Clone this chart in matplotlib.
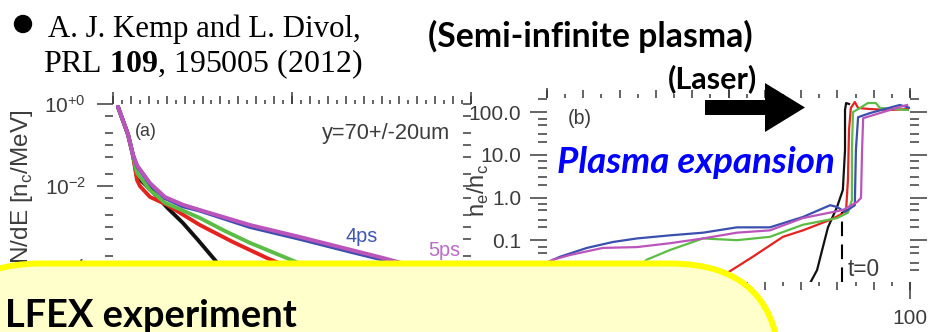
import math
import matplotlib
matplotlib.use("Agg")
import matplotlib.pyplot as plt
from matplotlib.patches import FancyBboxPatch, FancyArrow, Circle
from matplotlib.ticker import (FixedLocator, MultipleLocator, FuncFormatter,
                               NullFormatter, LogLocator)

plt.rcParams['font.family'] = 'Liberation Sans'
plt.rcParams['mathtext.fontset'] = 'custom'
plt.rcParams['mathtext.rm'] = 'Liberation Serif'
plt.rcParams['mathtext.bf'] = 'Liberation Serif:bold'
plt.rcParams['mathtext.sf'] = 'Liberation Sans'

# ---------------- panel (a): electron spectra dN/dE vs energy ----------------
a_black_E = [0.56, 1.0, 1.68, 2.23, 2.68, 4.47, 6.1, 7.8, 9.5, 11.2, 14.2]
a_black_f = [0.85, 0.46, 0.18, 0.057, 0.017, 0.0071, 0.0029, 0.00126, 4.8e-4, 1.75e-4, 2.9e-5]
a_red_E = [0.56, 1.0, 1.68, 2.23, 2.68, 3.0, 4.13, 6.0, 9.7, 13.4, 17.2, 20.9]
a_red_f = [0.85, 0.46, 0.18, 0.055, 0.014, 0.010, 0.0054, 0.0035, 0.00112, 4.3e-4, 1.75e-4, 8.0e-5]
a_green_E = [0.56, 1.0, 1.68, 2.23, 2.68, 4.13, 5.8, 9.7, 12.5, 15.3, 19.4, 23.1]
a_green_f = [0.85, 0.46, 0.18, 0.056, 0.021, 0.0080, 0.0039, 0.00166, 8.0e-4, 4.1e-4, 1.75e-4, 8.0e-5]
a_blue_E = [0.56, 1.0, 1.68, 2.23, 2.68, 4.13, 5.8, 7.8, 9.7, 15.3, 20.9, 26.5, 30.2, 34.3, 40]
a_blue_f = [0.85, 0.46, 0.18, 0.058, 0.031, 0.0112, 0.0051, 0.0032, 0.0025, 0.0010, 5.1e-4,
            2.5e-4, 1.58e-4, 8.9e-5, 4.6e-5]
a_purple_E = [0.56, 1.0, 1.68, 2.23, 2.68, 4.13, 5.8, 7.8, 9.7, 15.3, 20.9, 26.5, 30.2, 34.3, 40]
a_purple_f = [0.85, 0.46, 0.18, 0.058, 0.032, 0.0118, 0.0054, 0.0035, 0.0026, 0.00112, 5.7e-4,
              2.8e-4, 1.75e-4, 1.0e-4, 5.1e-5]
a_yticks = [1.0, 1e-2, 1e-4, 1e-6]

# ---------------- panel (b): density profiles ne/nc vs position ----------------
b_black_x = [71.5, 72.5, 74.4, 75.8, 77.4, 79.9, 81.5, 82.1, 82.1, 82.4, 83.2]
b_black_n = [0.008, 0.010, 0.020, 0.059, 0.20, 0.60, 1.5, 13, 112, 163, 155]
b_red_x = [44.0, 49.6, 56.7, 65.0, 70.5, 78.0, 80.7, 82.4, 82.9, 83.2, 83.7, 84.8, 85.7,
           89.0, 94.5, 99.4]
b_red_n = [0.008, 0.017, 0.041, 0.12, 0.17, 0.30, 0.39, 0.51, 2.6, 38, 125, 172, 125,
           118, 112, 118]
b_green_x = [18.0, 27.5, 33.9, 43.0, 52.3, 61.4, 70.5, 79.9, 82.9, 84.0, 84.0, 84.3, 86.2,
             88.4, 90.6, 91.7, 99.4]
b_green_n = [0.008, 0.035, 0.059, 0.11, 0.10, 0.12, 0.23, 0.33, 0.44, 0.87, 13, 100, 125,
             163, 163, 125, 112]
b_blue_x = [0.0, 3.6, 11.0, 18.2, 24.8, 33.9, 43.0, 52.3, 61.4, 70.5, 78.0, 79.9, 82.1,
            84.8, 85.1, 85.7, 89.0, 97.2, 100]
b_blue_n = [0.030, 0.041, 0.066, 0.091, 0.11, 0.13, 0.15, 0.20, 0.20, 0.35, 0.66, 0.60, 0.46,
            0.66, 13, 76, 95, 147, 125]
b_purple_x = [0.0, 1.7, 6.3, 15.4, 24.8, 33.9, 43.0, 52.3, 61.4, 70.5, 81.5, 85.4, 86.5,
              86.8, 87.1, 91.7, 97.2, 99.2]
b_purple_n = [0.030, 0.035, 0.045, 0.066, 0.069, 0.085, 0.11, 0.15, 0.17, 0.33, 0.51, 0.78,
              0.98, 13, 72, 95, 132, 147]
b_t0_x = 81.3
b_t0_range = (0.0105, 0.45)
b_yticks = [0.1, 1.0, 10.0, 100.0]

C_BLACK, C_RED, C_GREEN = '#111111', '#e42320', '#5bbd45'
C_BLUE, C_PURPLE = '#3a4fae', '#bb55bb'
TXT = '#3c3c3c'
TICK = '#3a3a3a'

W, H = 951, 332
fig = plt.figure(figsize=(W / 100, H / 100), dpi=100)
fig.patch.set_facecolor('white')


def hide_spines(ax):
    for s in ax.spines.values():
        s.set_visible(False)


# ---------- panel (a) ----------
axA = fig.add_axes([113 / W, 8 / H, 358 / W, 220 / H])
hide_spines(axA)
axA.set_yscale('log')
axA.set_xlim(0, 40)
axA.set_ylim(4.3e-6, 1.0)
for E, f, c in [(a_black_E, a_black_f, C_BLACK), (a_red_E, a_red_f, C_RED),
                (a_green_E, a_green_f, C_GREEN), (a_blue_E, a_blue_f, C_BLUE),
                (a_purple_E, a_purple_f, C_PURPLE)]:
    axA.plot(E, f, color=c, lw=2.8, solid_capstyle='round', solid_joinstyle='round')

axA.xaxis.set_major_locator(MultipleLocator(2))
axA.xaxis.set_minor_locator(MultipleLocator(1))
axA.tick_params(axis='x', which='major', top=True, bottom=False, labelbottom=False,
                direction='out', length=5.5, width=1.1, color=TICK)
axA.tick_params(axis='x', which='minor', top=True, bottom=False, direction='out',
                length=3, width=1.1, color=TICK)
secA = axA.secondary_xaxis('top')
secA.set_xticks([0, 20, 40])
secA.tick_params(length=9, width=1.1, color=TICK, labeltop=False, direction='out')
for s in secA.spines.values():
    s.set_visible(False)

axA.yaxis.set_major_locator(FixedLocator(a_yticks))
axA.yaxis.set_major_formatter(FuncFormatter(
    lambda v, p: r"$\mathsf{10^{%+d}}$" % round(math.log10(v))))
axA.yaxis.set_minor_locator(LogLocator(base=10, subs=(1.0, 2.0, 5.0), numticks=30))
axA.yaxis.set_minor_formatter(NullFormatter())
axA.tick_params(axis='y', which='major', left=True, right=False, direction='out',
                length=11.5, width=1.1, color=TICK, labelsize=15, labelcolor=TXT, pad=8)
axA.tick_params(axis='y', which='minor', left=True, right=False, direction='out',
                length=6, width=1.1, color=TICK)
secAy = axA.secondary_yaxis('right')
secAy.yaxis.set_major_locator(FixedLocator(a_yticks))
secAy.yaxis.set_minor_locator(LogLocator(base=10, subs=(1.0, 2.0, 5.0), numticks=30))
secAy.yaxis.set_minor_formatter(NullFormatter())
secAy.tick_params(which='both', direction='in', length=6, width=1.1, color=TICK,
                  labelright=False)
for s in secAy.spines.values():
    s.set_visible(False)

# ---------- panel (b) ----------
axB = fig.add_axes([547 / W, 50 / H, 363 / W, 184 / H])
hide_spines(axB)
axB.set_yscale('log')
axB.set_xlim(0, 100)
axB.set_ylim(0.0105, 214)
for x, n, c in [(b_black_x, b_black_n, C_BLACK), (b_red_x, b_red_n, C_RED),
                (b_green_x, b_green_n, C_GREEN), (b_blue_x, b_blue_n, C_BLUE),
                (b_purple_x, b_purple_n, C_PURPLE)]:
    axB.plot(x, n, color=c, lw=1.6)
axB.vlines(b_t0_x, *b_t0_range, colors='black', lw=1.5, linestyles=(0, (7, 4)))

axB.xaxis.set_major_locator(MultipleLocator(10))
axB.xaxis.set_minor_locator(MultipleLocator(5))
axB.xaxis.set_major_formatter(FuncFormatter(
    lambda v, p: f"{v:.0f}" if abs(v % 50) < 1e-9 else ""))
axB.tick_params(axis='x', which='major', top=True, bottom=True, direction='out',
                length=5.8, width=1.1, color=TICK, labelsize=15, labelcolor=TXT, pad=14)
axB.tick_params(axis='x', which='minor', top=True, bottom=True, direction='out',
                length=3.2, width=1.1, color=TICK)
for loc, ln in [('top', 7.5), ('bottom', 12.5)]:
    sb = axB.secondary_xaxis(loc)
    sb.set_xticks([0, 50, 100])
    sb.tick_params(length=ln, width=1.1, color=TICK, labeltop=False,
                   labelbottom=False, direction='out')
    for s in sb.spines.values():
        s.set_visible(False)

axB.yaxis.set_major_locator(FixedLocator(b_yticks))
axB.yaxis.set_major_formatter(FuncFormatter(lambda v, p: f"{v:.1f}"))
axB.yaxis.set_minor_locator(LogLocator(base=10, subs=(2.0, 3.0, 5.0, 7.0), numticks=30))
axB.yaxis.set_minor_formatter(NullFormatter())
axB.tick_params(axis='y', which='major', left=True, right=True, direction='out',
                length=12, width=1.1, color=TICK, labelsize=15, labelcolor=TXT, pad=6.5)
axB.tick_params(axis='y', which='minor', left=True, right=True, direction='out',
                length=6.5, width=1.1, color=TICK)

# ---------- annotation layer in pixel units ----------
ov = fig.add_axes([0, 0, 1, 1], zorder=10)
ov.set_xlim(0, W)
ov.set_ylim(H, 0)
ov.axis('off')
ov.patch.set_alpha(0)

renderer = fig.canvas.get_renderer()


def fit_text(x0, x1, y, s, va='baseline', **kw):
    t = ov.text(x0, y, s, fontsize=20, ha='left', va=va, **kw)
    w = t.get_window_extent(renderer).width
    t.set_fontsize(20 * (x1 - x0) / w)
    return t


# header: reference and title
ov.add_patch(Circle((23, 24), 8.5, color='black', zorder=3))
fit_text(48, 362, 37, "A. J. Kemp and L. Divol,", family='Liberation Serif', color='black')
fit_text(43, 362, 72, r"PRL $\mathbf{109}$, 195005 (2012)", family='Liberation Serif',
         color='black')
fit_text(428, 753, 47, "(Semi-infinite plasma)", family='Lato', weight='bold', color='black')
fit_text(668, 757, 88, "(Laser)", family='Lato', weight='bold', color='black')
ov.add_patch(FancyArrow(705, 107.5, 100, 0, width=15, head_width=49, head_length=40,
                        length_includes_head=True, fc='black', ec='none', zorder=3))
fit_text(557, 835, 173, "Plasma expansion", family='Lato', weight='bold', style='italic',
         color='#0000ff')

# panel annotations
fit_text(135, 157, 131, "(a)", va='center', color=TXT)
fit_text(322, 450, 134, "y=70+/-20um", va='center', color=TXT)
fit_text(345, 377, 236, "4ps", va='center', color='#3f56b0')
fit_text(428, 460, 250, "5ps", va='center', color='#bb6cc4')
fit_text(568, 592, 118, "(b)", va='center', color=TXT)
fit_text(848, 880, 270, "t=0", va='center', color=TXT)
ov.text(22, 110, r"dN/dE [n$_\mathsf{c}$/MeV]", rotation=90, ha='center', va='top',
        fontsize=17.5, color=TXT)
ov.text(478, 190, r"n$_\mathsf{e}$/n$_\mathsf{c}$", rotation=90, ha='center', va='center',
        fontsize=17, color=TXT)

# highlighted box at the bottom
ov.add_patch(FancyBboxPatch((-69, 263.5), 849, 200,
                            boxstyle="round,pad=0,rounding_size=110",
                            fc='#ffffcc', ec='#ffff00', lw=4.3, zorder=5))
fit_text(5, 297, 327, "LFEX experiment", family='Lato', weight='bold', color='black',
         zorder=6)

fig.savefig('out.png', dpi=100)
